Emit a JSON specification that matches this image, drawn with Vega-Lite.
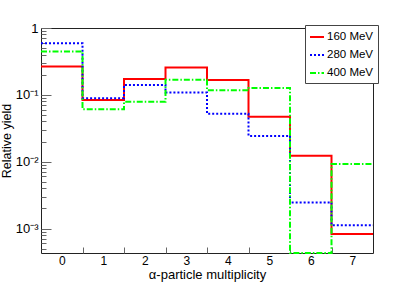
{
  "$schema": "https://vega.github.io/schema/vega-lite/v6.json",
  "width": 332,
  "height": 225,
  "autosize": {"type": "none"},
  "padding": {"left": 41, "top": 28, "right": 42, "bottom": 29},
  "background": "white",
  "config": {
    "view": {"stroke": "#222", "strokeWidth": 1},
    "font": "Liberation Sans",
    "axis": {"labelFont": "Liberation Sans", "titleFont": "Liberation Sans", "labelColor": "#000", "titleColor": "#000", "titleFontWeight": "normal", "grid": false}
  },
  "data": {
    "values": [
      {"mult": 0, "series": "160 MeV", "yield": 0.265},
      {"mult": 1, "series": "160 MeV", "yield": 0.084},
      {"mult": 2, "series": "160 MeV", "yield": 0.172},
      {"mult": 3, "series": "160 MeV", "yield": 0.257},
      {"mult": 4, "series": "160 MeV", "yield": 0.166},
      {"mult": 5, "series": "160 MeV", "yield": 0.047},
      {"mult": 6, "series": "160 MeV", "yield": 0.0123},
      {"mult": 7, "series": "160 MeV", "yield": 0.00083},
      {"mult": 0, "series": "280 MeV", "yield": 0.59},
      {"mult": 1, "series": "280 MeV", "yield": 0.089},
      {"mult": 2, "series": "280 MeV", "yield": 0.14},
      {"mult": 3, "series": "280 MeV", "yield": 0.108},
      {"mult": 4, "series": "280 MeV", "yield": 0.052},
      {"mult": 5, "series": "280 MeV", "yield": 0.0243},
      {"mult": 6, "series": "280 MeV", "yield": 0.00246},
      {"mult": 7, "series": "280 MeV", "yield": 0.00112},
      {"mult": 0, "series": "400 MeV", "yield": 0.446},
      {"mult": 1, "series": "400 MeV", "yield": 0.061},
      {"mult": 2, "series": "400 MeV", "yield": 0.079},
      {"mult": 3, "series": "400 MeV", "yield": 0.168},
      {"mult": 4, "series": "400 MeV", "yield": 0.117},
      {"mult": 5, "series": "400 MeV", "yield": 0.127},
      {"mult": 6, "series": "400 MeV", "yield": 0},
      {"mult": 7, "series": "400 MeV", "yield": 0.0092}
    ]
  },
  "transform": [
    {"calculate": "datum.mult - 0.5", "as": "lo"},
    {"calculate": "datum.mult + 0.5", "as": "hi"},
    {"fold": ["lo", "hi"], "as": ["edge", "x"]},
    {"calculate": "datum.mult * 2 + (datum.edge == 'hi' ? 1 : 0)", "as": "ord"}
  ],
  "layer": [
    {
      "mark": {"type": "line", "invalid": "show", "strokeWidth": 2},
      "encoding": {
        "x": {
          "field": "x", "type": "quantitative",
          "scale": {"domain": [-0.5, 7.5], "nice": false, "zero": false},
          "axis": {"values": [0, 1, 2, 3, 4, 5, 6, 7], "ticks": false, "domain": false, "labelFontSize": 12, "labelPadding": 2, "labelFlush": false, "title": "α-particle multiplicity", "titleFontSize": 13, "titlePadding": 2, "titleBaseline": "top"}
        },
        "y": {
          "field": "yield", "type": "quantitative",
          "scale": {"type": "log", "domain": [0.00043, 1], "clamp": true, "nice": false},
          "axis": {"values": [0.001, 0.01, 0.1, 1], "ticks": false, "domain": false, "labelFontSize": 13, "labelPadding": 3, "labelExpr": "datum.value > 0.5 ? '1' : datum.value > 0.05 ? '10⁻¹' : datum.value > 0.005 ? '10⁻²' : '10⁻³'", "title": "Relative yield", "titleFontSize": 12.5, "titlePadding": 2}
        },
        "color": {
          "field": "series", "type": "nominal",
          "scale": {"domain": ["160 MeV", "280 MeV", "400 MeV"], "range": ["#ff0000", "#0000ff", "#00ff00"]},
          "legend": {"title": null, "orient": "none", "legendX": 264, "legendY": -3, "fillColor": "white", "strokeColor": "#444", "padding": 4, "symbolType": "stroke", "symbolSize": 196, "symbolStrokeWidth": 2, "labelFontSize": 11.5, "labelFont": "Liberation Sans", "labelColor": "#000", "rowPadding": 4, "labelOffset": 2}
        },
        "strokeDash": {
          "field": "series", "type": "nominal",
          "scale": {"domain": ["160 MeV", "280 MeV", "400 MeV"], "range": [[1, 0], [2, 2], [6, 2, 1.5, 2]]},
          "legend": {"title": null, "orient": "none", "legendX": 264, "legendY": -3, "fillColor": "white", "strokeColor": "#444", "padding": 4, "symbolType": "stroke", "symbolSize": 196, "symbolStrokeWidth": 2, "labelFontSize": 11.5, "labelFont": "Liberation Sans", "labelColor": "#000", "rowPadding": 4, "labelOffset": 2}
        },
        "order": {"field": "ord", "type": "quantitative"}
      }
    },
    {
      "mark": {"type": "line", "strokeOpacity": 0},
      "encoding": {
        "x": {"field": "x", "type": "quantitative", "axis": {"orient": "top", "offset": -225, "values": [0.5, 1.5, 2.5, 3.5, 4.5, 5.5, 6.5], "labels": false, "domain": false, "tickSize": 6, "tickColor": "#666", "title": null}},
        "y": {"field": "yield", "type": "quantitative", "axis": null},
        "detail": {"field": "series"},
        "order": {"field": "ord", "type": "quantitative"}
      }
    },
    {
      "mark": {"type": "line", "strokeOpacity": 0},
      "encoding": {
        "x": {"field": "x", "type": "quantitative", "axis": null},
        "y": {"field": "yield", "type": "quantitative", "axis": {"orient": "right", "offset": -332, "values": [0.001, 0.01, 0.1, 1], "labels": false, "domain": false, "tickSize": 10, "tickColor": "#666", "title": null}},
        "detail": {"field": "series"},
        "order": {"field": "ord", "type": "quantitative"}
      }
    },
    {
      "mark": {"type": "line", "strokeOpacity": 0},
      "encoding": {
        "x": {"field": "x", "type": "quantitative", "axis": null},
        "y": {"field": "yield", "type": "quantitative", "axis": {"orient": "right", "offset": -332, "values": [0.0005, 0.0006, 0.0007, 0.0008, 0.0009, 0.002, 0.003, 0.004, 0.005, 0.006, 0.007, 0.008, 0.009, 0.02, 0.03, 0.04, 0.05, 0.06, 0.07, 0.08, 0.09, 0.2, 0.3, 0.4, 0.5, 0.6, 0.7, 0.8, 0.9], "labels": false, "domain": false, "tickSize": 5, "tickColor": "#666", "title": null}},
        "detail": {"field": "series"},
        "order": {"field": "ord", "type": "quantitative"}
      }
    }
  ],
  "resolve": {"axis": {"x": "independent", "y": "independent"}}
}
